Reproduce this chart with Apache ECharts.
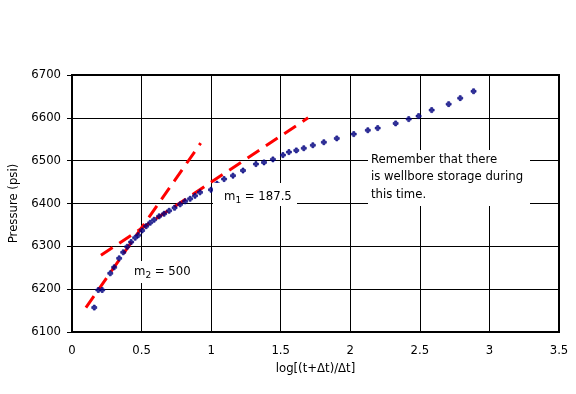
<!DOCTYPE html>
<html>
<head>
<meta charset="utf-8">
<script src="https://cdn.jsdelivr.net/npm/echarts@6/dist/echarts.min.js"></script>
<style>html,body{margin:0;padding:0;background:#fff}#c{width:576px;height:394px}</style>
</head>
<body>
<div id="c"></div>
<script>
// Measured Horner data
const hornerX = [0.160,0.189,0.217,0.275,0.303,0.339,0.368,0.397,0.425,0.454,0.476,0.504,0.533,0.562,0.590,0.626,0.662,0.698,0.737,0.777,0.813,0.849,0.884,0.920,0.999,1.042,1.093,1.157,1.229,1.322,1.380,1.444,1.516,1.559,1.612,1.666,1.731,1.810,1.903,2.025,2.126,2.197,2.326,2.420,2.491,2.585,2.707,2.790,2.886];
const pressure = [6157,6198,6198,6237,6251,6272,6286,6299,6310,6320,6326,6337,6347,6355,6362,6370,6376,6383,6390,6398,6405,6411,6418,6426,6432,6446,6457,6465,6477,6492,6496,6503,6513,6520,6524,6529,6536,6543,6552,6562,6571,6576,6587,6597,6604,6618,6632,6646,6662];
// Straight-line fits (endpoints)
const m2LineX = [0.100, 0.925];
const m2LineY = [6157, 6541];
const m1LineX = [0.208, 1.697];
const m1LineY = [6279, 6600];
const xTicks = [0, 0.5, 1, 1.5, 2, 2.5, 3, 3.5];
const yTicks = [6100, 6200, 6300, 6400, 6500, 6600, 6700];
const xTitle = 'log[(t+Δt)/Δt]';
const yTitle = 'Pressure (psi)';
const noteM1 = ['m', '1', ' = 187.5'];
const noteM2 = ['m', '2', ' = 500'];
const noteText = 'Remember that there\nis wellbore storage during\nthis time.';

const FONT = 'DejaVu Sans';
const chart = echarts.init(document.getElementById('c'), null, {renderer: 'canvas'});
const pairs = (xs, ys) => xs.map((x, i) => [x, ys[i]]);

const richSub = {
  a: {fontSize: 11.7, fontFamily: FONT, color: '#000', lineHeight: 16},
  b: {fontSize: 9, fontFamily: FONT, color: '#000', lineHeight: 8, verticalAlign: 'bottom'}
};

chart.setOption({
  backgroundColor: '#fff',
  animation: false,
  grid: {left: 72, right: 17, top: 75, bottom: 62, containLabel: false, outerBoundsMode: 'none',
    show: true, borderColor: '#000', borderWidth: 2, backgroundColor: 'transparent'},
  xAxis: {
    type: 'value', min: xTicks[0], max: xTicks[xTicks.length - 1], interval: 0.5,
    name: xTitle, nameLocation: 'middle', nameGap: 31,
    nameTextStyle: {fontFamily: FONT, fontSize: 11.7, color: '#000'},
    axisLine: {show: true, lineStyle: {color: '#000', width: 2}},
    axisTick: {show: false},
    axisLabel: {fontFamily: FONT, fontSize: 11.7, color: '#000', margin: 13, formatter: v => String(v)},
    splitLine: {show: true, lineStyle: {color: '#000', width: 1}}
  },
  yAxis: {
    type: 'value', min: yTicks[0], max: yTicks[yTicks.length - 1], interval: 100,
    name: yTitle, nameLocation: 'middle', nameGap: 48,
    nameTextStyle: {fontFamily: FONT, fontSize: 11.7, color: '#000'},
    axisLine: {show: true, lineStyle: {color: '#000', width: 2}},
    axisTick: {show: true, inside: false, length: 5, lineStyle: {color: '#000', width: 1}},
    axisLabel: {fontFamily: FONT, fontSize: 11.7, color: '#000', margin: 11, formatter: v => String(v)},
    splitLine: {show: true, lineStyle: {color: '#000', width: 1}}
  },
  series: [
    {
      type: 'line', data: pairs(m2LineX, m2LineY), symbol: 'none', z: 3,
      lineStyle: {color: '#ff0000', width: 3, type: [14, 8]}
    },
    {
      type: 'line', data: pairs(m1LineX, m1LineY), symbol: 'none', z: 3,
      lineStyle: {color: '#ff0000', width: 3, type: [14, 8]}
    },
    {
      type: 'scatter', data: pairs(hornerX, pressure), z: 4,
      symbol: 'path://M1.5,0H3.5V1.5H5V3.5H3.5V5H1.5V3.5H0V1.5H1.5Z', symbolSize: 5,
      itemStyle: {color: '#000080', borderColor: '#000080', borderWidth: 0.8}
    }
  ],
  graphic: [
    {type: 'rect', shape: {x: 213, y: 183, width: 84, height: 23}, style: {fill: '#fff'}, z: 5},
    {type: 'text', x: 224, y: 189, z: 6,
      style: {text: '{a|' + noteM1[0] + '}{b|' + noteM1[1] + '}{a|' + noteM1[2] + '}', rich: richSub}},
    {type: 'rect', shape: {x: 131, y: 261, width: 64, height: 22}, style: {fill: '#fff'}, z: 5},
    {type: 'text', x: 134, y: 264, z: 6,
      style: {text: '{a|' + noteM2[0] + '}{b|' + noteM2[1] + '}{a|' + noteM2[2] + '}', rich: richSub}},
    {type: 'rect', shape: {x: 368, y: 150, width: 162, height: 56}, style: {fill: '#fff'}, z: 5},
    {type: 'text', x: 371, y: 151, z: 6,
      style: {text: noteText, fontFamily: FONT, fontSize: 11.7, fill: '#000', lineHeight: 17.5}}
  ]
});
</script>
</body>
</html>
